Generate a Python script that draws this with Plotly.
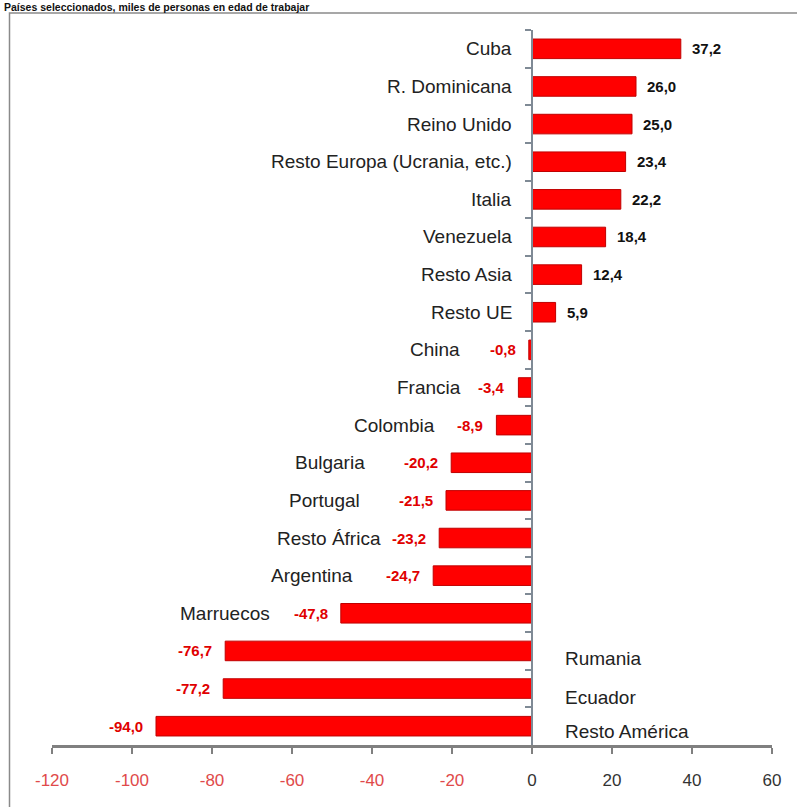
import plotly.graph_objects as go

title_text = "Países seleccionados, miles de personas en edad de trabajar"
countries = ["Cuba", "R. Dominicana", "Reino Unido", "Resto Europa (Ucrania, etc.)", "Italia",
             "Venezuela", "Resto Asia", "Resto UE", "China", "Francia", "Colombia", "Bulgaria",
             "Portugal", "Resto África", "Argentina", "Marruecos", "Rumania", "Ecuador", "Resto América"]
values = [37.2, 26.0, 25.0, 23.4, 22.2, 18.4, 12.4, 5.9, -0.8, -3.4, -8.9, -20.2,
          -21.5, -23.2, -24.7, -47.8, -76.7, -77.2, -94.0]
tick_vals = [-120, -100, -80, -60, -40, -20, 0, 20, 40, 60]

# styling: pixel gap between bar end and category label for negative bars (left side)
neg_label_gap = {"China": 67, "Francia": 55, "Colombia": 59, "Bulgaria": 84, "Portugal": 84,
                 "Resto África": 56, "Argentina": 78, "Marruecos": 69}
right_label_shift = {"Rumania": -8, "Ecuador": -9, "Resto América": -5}

W, H = 797, 807
L, R, T, B = 52, 25, 30, 62

def fmt(v):
    return f"{v:.1f}".replace(".", ",")

fig = go.Figure()
fig.add_trace(go.Bar(
    y=countries, x=values, orientation="h",
    marker=dict(color="#ff0000", line=dict(color="#c00000", width=1)),
    width=0.52, hoverinfo="skip",
))

LABEL_FONT = dict(family="Liberation Sans, Arial", size=19, color="#222222")
VAL_FONT = "Liberation Sans, Arial"

ann = []
for c, v in zip(countries, values):
    if v >= 0:
        ann.append(dict(x=v, y=c, xref="x", yref="y", text=f"<b>{fmt(v)}</b>", showarrow=False,
                        xanchor="left", xshift=9, font=dict(family=VAL_FONT, size=15, color="#111111")))
        ann.append(dict(x=0, y=c, xref="x", yref="y", text=c, showarrow=False,
                        xanchor="right", xshift=-18, font=LABEL_FONT))
    else:
        ann.append(dict(x=v, y=c, xref="x", yref="y", text=f"<b>{fmt(v)}</b>", showarrow=False,
                        xanchor="right", xshift=-11, font=dict(family=VAL_FONT, size=15, color="#e00000")))
        if c in right_label_shift:
            ann.append(dict(x=0, y=c, xref="x", yref="y", text=c, showarrow=False,
                            xanchor="left", xshift=31, yshift=right_label_shift[c], font=LABEL_FONT))
        else:
            ann.append(dict(x=v, y=c, xref="x", yref="y", text=c, showarrow=False,
                            xanchor="right", xshift=-neg_label_gap[c], font=LABEL_FONT))

ph = H - T - B
pw = W - L - R
ann.append(dict(x=(2 - L) / pw, y=1 + (T + 1) / ph, xref="paper", yref="paper",
                text=f"<b>{title_text}</b>", showarrow=False, xanchor="left", yanchor="top",
                font=dict(family="Liberation Sans, Arial", size=10.5, color="#111111")))

tick_text = [f"<span style='color:#e04a4a'>{t}</span>" if t < 0 else f"<span style='color:#333333'>{t}</span>"
             for t in tick_vals]

fig.update_layout(
    width=W, height=H, margin=dict(l=L, r=R, t=T, b=B),
    paper_bgcolor="white", plot_bgcolor="white", showlegend=False,
    annotations=ann,
    shapes=[dict(type="rect", xref="paper", yref="paper",
                 x0=(9.5 - L) / pw, x1=1.2, y0=-0.2, y1=1 + (T - 13) / ph,
                 line=dict(color="#8a8a8a", width=1.5), fillcolor="rgba(0,0,0,0)", layer="below")],
    xaxis=dict(range=[-120, 60], tickvals=tick_vals, ticktext=tick_text, showgrid=False, zeroline=False,
               showline=True, linecolor="#808080", linewidth=2.5, ticks="outside", ticklen=6,
               tickcolor="#808080", tickwidth=2, tickfont=dict(family="Liberation Sans, Arial", size=17),
               ticklabelstandoff=12),
    yaxis=dict(range=[18.5, -0.5], showticklabels=False, showgrid=False, zeroline=False,
               showline=True, linecolor="#7f8a95", linewidth=2, ticks="outside", tickson="boundaries",
               ticklen=6, tickcolor="#7f8a95", tickwidth=2, anchor="free", position=120 / 180),
)

fig.write_html("out.html", config={"displayModeBar": False},
               post_script="document.body.style.margin='0';")
